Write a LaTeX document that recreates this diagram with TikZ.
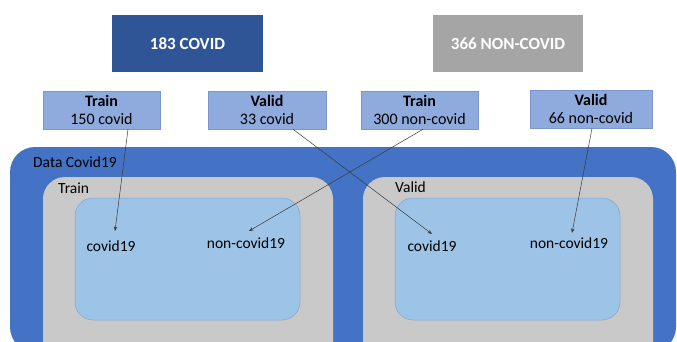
\documentclass[tikz,border=0pt]{standalone}
\usepackage{fontspec}
\setmainfont{Carlito}
\usetikzlibrary{arrows.meta}
\definecolor{outerblue}{HTML}{4472C4}
\definecolor{panelgray}{HTML}{C9C9C9}
\definecolor{innerblue}{HTML}{9DC3E6}
\definecolor{innerborder}{HTML}{7FA6D3}
\definecolor{lblue}{HTML}{8FAADC}
\definecolor{lborder}{HTML}{7B96CC}
\definecolor{darkhead}{HTML}{2F5597}
\definecolor{grayhead}{HTML}{A5A5A5}
\definecolor{lineclr}{HTML}{3A3A3A}
\begin{document}
\begin{tikzpicture}[x=1pt,y=-1pt,
  header/.style={minimum width=151pt,minimum height=57pt,inner sep=0pt,
    font=\fontsize{17}{20}\selectfont\bfseries,text=white},
  lbl/.style={fill=lblue,draw=lborder,line width=0.5pt,minimum width=117pt,
    minimum height=38pt,inner sep=0pt,align=center,
    font=\fontsize{16}{18}\selectfont},
  txt/.style={inner sep=0pt,font=\fontsize{15.5}{18}\selectfont},
  conn/.style={draw=lineclr,line width=0.5pt,-{Stealth[length=4.5pt,width=3.5pt]}}]
\useasboundingbox (0,0) rectangle (677,342);
\clip (0,0) rectangle (677,342);
% containers
\fill[outerblue,rounded corners=25pt] (10,147) rectangle (676,352);
\fill[panelgray,rounded corners=22pt] (43,177) rectangle (333,380);
\fill[panelgray,rounded corners=22pt] (363,177) rectangle (653,380);
\filldraw[fill=innerblue,draw=innerborder,line width=0.5pt,rounded corners=18pt] (75,198) rectangle (300,320);
\filldraw[fill=innerblue,draw=innerborder,line width=0.5pt,rounded corners=18pt] (395,198) rectangle (620,320);
\node[txt,anchor=west] (dataL) at (33,162) {Data Covid19};
\node[txt,anchor=west] (trainL) at (58,188) {Train};
\node[txt,anchor=west] (validL) at (395,187) {Valid};
\node[txt] (c1) at (111,246) {covid19};
\node[txt] (n1) at (246,243) {non-covid19};
\node[txt] (c2) at (432,246) {covid19};
\node[txt] (n2) at (569,243) {non-covid19};
% headers
\node[header,fill=darkhead] (hc) at (187.5,43.5) {183 COVID};
\node[header,fill=grayhead,minimum width=150pt] (hn) at (508,43.5) {366 NON-COVID};
% label boxes
\node[lbl] (tr1) at (101.5,110) {{\bfseries Train}\\150 covid};
\node[lbl,minimum width=118pt] (va1) at (267,110) {{\bfseries Valid}\\33 covid};
\node[lbl] (tr2) at (419.5,110) {{\bfseries Train}\\300 non-covid};
\node[lbl,minimum width=122pt] (va2) at (591,109) {{\bfseries Valid}\\66 non-covid};
% arrow tips
\coordinate (t1) at (115,231);
\coordinate (t2) at (432,234);
\coordinate (t3) at (249,231);
\coordinate (t4) at (572,233);
\draw[conn] ([xshift=26.5pt]tr1.south) -- (t1);
\draw[conn] ([xshift=26pt]va1.south) -- (t2);
\draw[conn] ([xshift=3.5pt]tr2.south) -- (t3);
\draw[conn] ([xshift=1pt]va2.south) -- (t4);
\end{tikzpicture}
\end{document}
